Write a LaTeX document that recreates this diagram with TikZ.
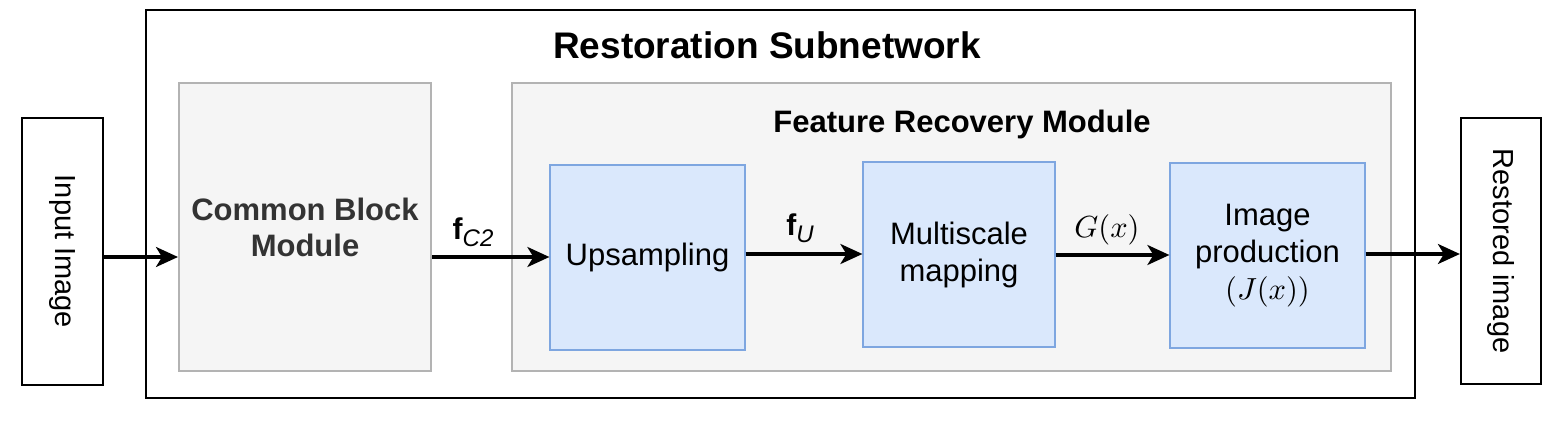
\documentclass[tikz,border=0pt]{standalone}
\usepackage{fontspec}
\setmainfont{Liberation Sans}
\usetikzlibrary{arrows.meta}
\definecolor{grayfill}{HTML}{F5F5F5}
\definecolor{grayline}{HTML}{B3B3B3}
\definecolor{bluefill}{HTML}{DAE8FC}
\definecolor{blueline}{HTML}{7EA6E0}
\definecolor{darktext}{HTML}{333333}
\newcommand{\bigmath}[1]{\scalebox{3.05}{\fontsize{10}{12}\selectfont$#1$}}
\begin{document}
\begin{tikzpicture}[x=1pt,y=-1pt,
  plainbox/.style={draw=black, line width=2.2pt, fill=white, inner sep=0pt},
  graybox/.style={draw=grayline, fill=grayfill, line width=2pt, inner sep=0pt},
  bluebox/.style={draw=blueline, fill=bluefill, line width=1.2pt, inner sep=0pt, align=center,
     font=\fontsize{31}{37}\selectfont},
  sidelabel/.style={rotate=-90, font=\fontsize{29}{34}\selectfont},
  conn/.style={line width=3.2pt, -{Stealth[length=22pt,width=20pt,inset=6pt]}},
  edgelabel/.style={inner sep=0pt, font=\fontsize{30}{34}\selectfont}]
\useasboundingbox (0,0) rectangle (1553,422);
% containers
\node[plainbox, minimum width=1269pt, minimum height=388pt] (outer) at (780.5,204) {};
\node[font=\fontsize{37}{42}\selectfont\bfseries] (outertitle) at (767,45) {Restoration Subnetwork};
\node[graybox, minimum width=252pt, minimum height=288pt, align=center, text=darktext,
      font=\fontsize{31}{36}\selectfont\bfseries] (cb) at (305,227) {Common Block\\Module};
\node[graybox, minimum width=879pt, minimum height=288pt] (frm) at (951.5,227) {};
\node[font=\fontsize{31}{36}\selectfont\bfseries] (frmtitle) at (962,124) {Feature Recovery Module};
% side boxes
\node[plainbox, minimum width=81pt, minimum height=267pt] (in) at (62.5,251.5) {};
\node[sidelabel] (intext) at (in.center) {Input Image};
\node[plainbox, minimum width=80pt, minimum height=266pt] (out) at (1501,251) {};
\node[sidelabel] (outtext) at (out.center) {Restored image};
% inner blue boxes
\node[bluebox, minimum width=195pt, minimum height=185pt] (up) at (647.5,257.5) {Upsampling};
\node[bluebox, minimum width=192pt, minimum height=185pt] (ms) at (959,254.5) {Multiscale\\mapping};
\node[bluebox, minimum width=195pt, minimum height=185pt] (ip) at (1267.5,255.5) {Image\\production\\\bigmath{(J(x))}};
% arrow heights
\coordinate (y1) at (0,257);
\coordinate (y3) at (0,254);
\coordinate (y4) at (0,255);
\coordinate (y5) at (0,254);
\draw[conn] (in.east |- y1) -- (cb.west |- y1);
\draw[conn] (cb.east |- y1) -- (up.west |- y1);
\draw[conn] (up.east |- y3) -- (ms.west |- y3);
\draw[conn] (ms.east |- y4) -- (ip.west |- y4);
\draw[conn] (ip.east |- y5) -- (out.west |- y5);
% edge labels
\node[edgelabel] (lc2) at (473,232) {\textbf{f}\raisebox{-0.25em}{\fontsize{24}{28}\selectfont\itshape C2}};
\node[edgelabel] (lu) at (800,228) {\textbf{f}\raisebox{-0.25em}{\fontsize{24}{28}\selectfont\itshape U}};
\node[edgelabel] (lg) at (1107,230) {\bigmath{G(x)}};
\end{tikzpicture}
\end{document}
